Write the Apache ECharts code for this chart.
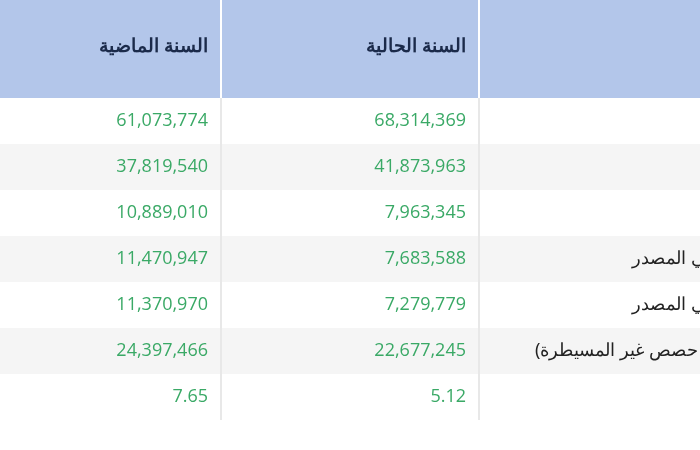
<!DOCTYPE html><html><head><meta charset="utf-8"><script src="https://cdn.jsdelivr.net/npm/echarts@6/dist/echarts.min.js"></script>
<style>html,body{margin:0;padding:0;background:#fff}#c{width:700px;height:450px}</style></head><body><div id="c"></div><script>
const headers = ['السنة الماضية', 'السنة الحالية'];
const lastYear = ['61,073,774','37,819,540','10,889,010','11,470,947','11,370,970','24,397,466','7.65'];
const currentYear = ['68,314,369','41,873,963','7,963,345','7,683,588','7,279,779','22,677,245','5.12'];
const rowLabels = ['','','','العائد لمساهمي المصدر','العائد لمساهمي المصدر','(بعد حصص غير المسيطرة)',''];
const labelLeft = [0,0,0,632,632,535,0];

const chart = echarts.init(document.getElementById('c'), null, {renderer:'canvas'});
const g = [];
const headH = 98, rowH = 46;
g.push({type:'rect', shape:{x:0,y:0,width:700,height:headH}, style:{fill:'#b3c6ea'}});
lastYear.forEach((v,i)=>{
  const y = headH + i*rowH;
  g.push({type:'rect', shape:{x:0,y:y,width:700,height:rowH}, style:{fill: i%2 ? '#f5f5f5' : '#ffffff'}});
  g.push({type:'text', style:{x:208,y:y+rowH/2,text:v,align:'right',verticalAlign:'middle',fill:'#3aa966',font:'18px "Open Sans", sans-serif'}});
  g.push({type:'text', style:{x:466,y:y+rowH/2,text:currentYear[i],align:'right',verticalAlign:'middle',fill:'#3aa966',font:'18px "Open Sans", sans-serif'}});
  if (rowLabels[i]) g.push({type:'text', style:{x:labelLeft[i],y:y+rowH/2,text:rowLabels[i],align:'left',verticalAlign:'middle',fill:'#222',font:'18px "Noto Sans", sans-serif'}});
});
const bottom = headH + lastYear.length*rowH;
[221,479].forEach(x=>{
  g.push({type:'rect', shape:{x:x-1,y:0,width:2,height:headH}, style:{fill:'#ffffff'}});
  g.push({type:'rect', shape:{x:x-1,y:headH,width:2,height:bottom-headH}, style:{fill:'#e8e8e8'}});
});
g.push({type:'text', style:{x:208,y:47,text:headers[0],align:'right',verticalAlign:'middle',fill:'#1b2a4a',font:'bold 19px "Noto Sans", sans-serif'}});
g.push({type:'text', style:{x:466,y:47,text:headers[1],align:'right',verticalAlign:'middle',fill:'#1b2a4a',font:'bold 19px "Noto Sans", sans-serif'}});
chart.setOption({animation:false, graphic:{elements:g}});
</script></body></html>
